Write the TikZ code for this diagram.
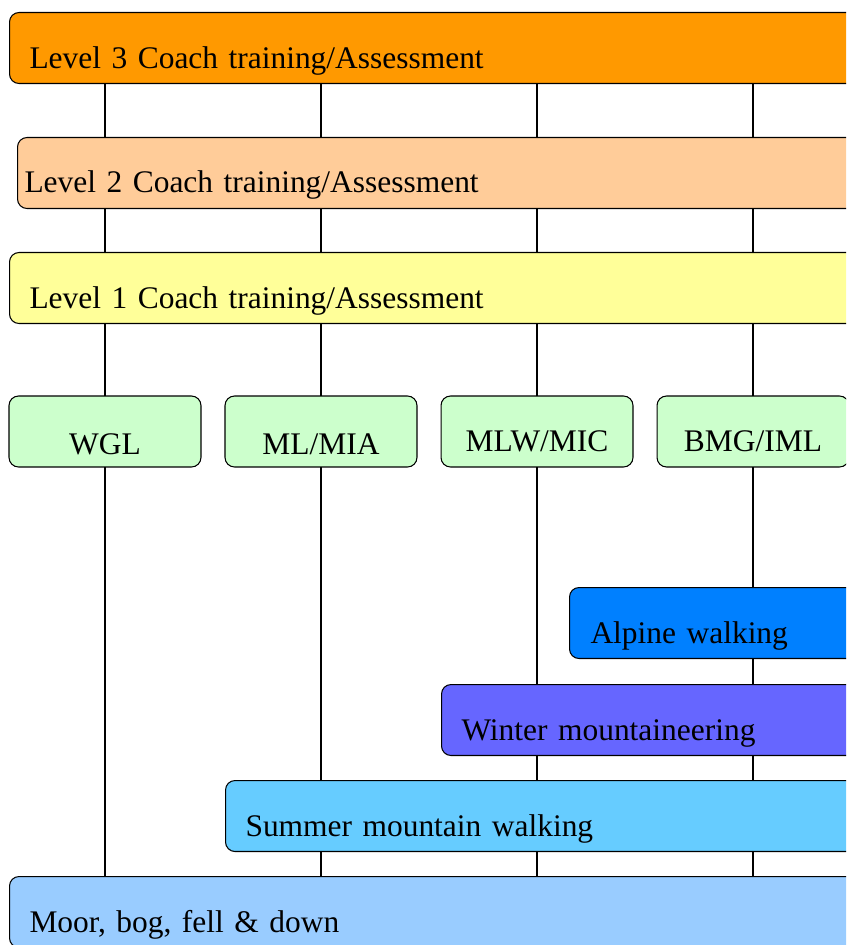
\documentclass[tikz,border=0pt]{standalone}
\usepackage{fontspec}
\setmainfont{Liberation Serif}
\usepackage{xcolor}
\usetikzlibrary{positioning,backgrounds}

\definecolor{levelthree}{HTML}{FF9900}
\definecolor{leveltwo}{HTML}{FFCC99}
\definecolor{levelone}{HTML}{FFFF99}
\definecolor{certgreen}{HTML}{CCFFCC}
\definecolor{alpineblue}{HTML}{0080FF}
\definecolor{winterblue}{HTML}{6666FF}
\definecolor{summerblue}{HTML}{66CCFF}
\definecolor{moorblue}{HTML}{99CCFF}

\tikzset{
  every bar/.style={draw, line width=0.6pt, rounded corners=0.19cm,
    anchor=north west, minimum height=1.42cm, text width=20cm, align=left,
    inner xsep=0.4cm, text height=0.8cm, text depth=0pt,
    font=\fontsize{17.9}{22}\selectfont},
  every cert/.style={draw, line width=0.6pt, rounded corners=0.19cm,
    fill=certgreen, minimum width=3.84cm, minimum height=1.42cm,
    inner sep=0pt, text depth=0pt, align=center,
    font=\fontsize{17.9}{22}\selectfont},
  route/.style={line width=0.6pt}
}

\begin{document}
\begin{tikzpicture}[x=0.02cm, y=-0.02cm]

\useasboundingbox (0,0) rectangle (846,945);
\clip (0,0) rectangle (846,945);

% coach levels
\node [every bar, fill=levelthree] (level-3) at (9,12) {Level 3 Coach training/Assessment};
\node [every bar, fill=leveltwo, inner xsep=0.14cm, text height=0.76cm] (level-2) at (17,137) {Level 2 Coach training/Assessment};
\node [every bar, fill=levelone] (level-1) at (9,252) {Level 1 Coach training/Assessment};

% awards
\foreach \m/\d [count=\i from 0] in {WGL/0.92cm, {ML/MIA}/0.92cm, {MLW/MIC}/0.8cm, {BMG/IML}/0.8cm}
  \node [every cert, text height=\d] (cert-\i) at (105+\i*216,431.5) {\m};

% terrain
\node [every bar, fill=alpineblue, inner xsep=0.42cm] (alpine) at (569,587) {Alpine walking};
\node [every bar, fill=winterblue] (winter) at (441,684) {Winter mountaineering};
\node [every bar, fill=summerblue] (summer) at (225,780) {Summer mountain walking};
\node [every bar, fill=moorblue] (moor) at (9,876) {Moor, bog, fell \& down};

\begin{scope}[on background layer]
\foreach \i in {0,...,3}
  \draw [route] (cert-\i |- level-3.south) -- (cert-\i |- moor.north);
\end{scope}

\end{tikzpicture}
\end{document}
